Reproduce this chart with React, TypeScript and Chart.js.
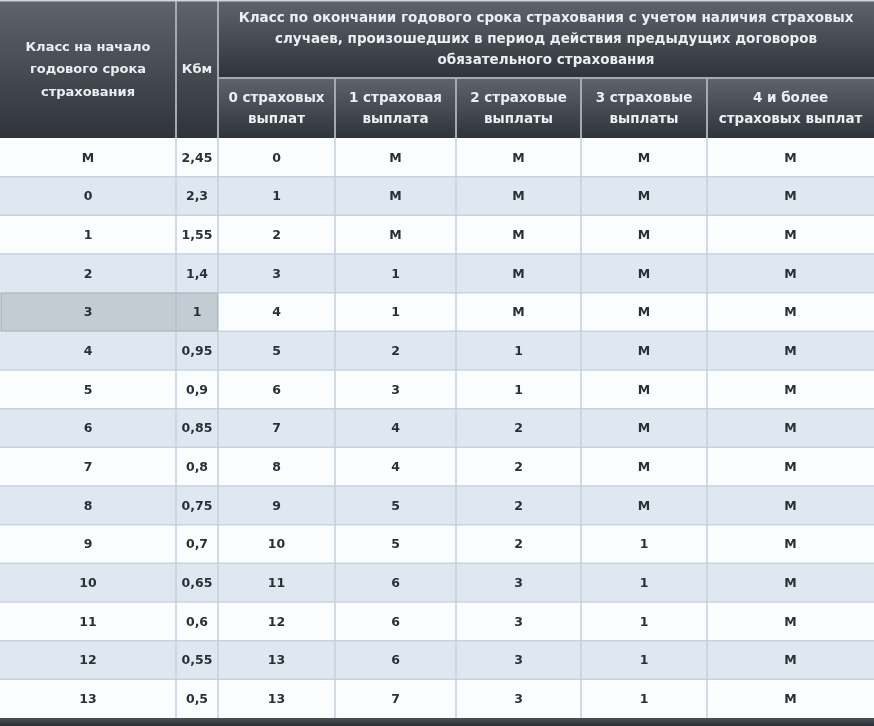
import React, { useEffect, useRef } from "react";
import { Chart, registerables } from "chart.js";

Chart.register(...registerables);

// ---- Data ----
const START_CLASSES = ["М", "0", "1", "2", "3", "4", "5", "6", "7", "8", "9", "10", "11", "12", "13"];
const KBM = ["2,45", "2,3", "1,55", "1,4", "1", "0,95", "0,9", "0,85", "0,8", "0,75", "0,7", "0,65", "0,6", "0,55", "0,5"];
const AFTER_0 = ["0", "1", "2", "3", "4", "5", "6", "7", "8", "9", "10", "11", "12", "13", "13"];
const AFTER_1 = ["М", "М", "М", "1", "1", "2", "3", "4", "4", "5", "5", "6", "6", "6", "7"];
const AFTER_2 = ["М", "М", "М", "М", "М", "1", "1", "2", "2", "2", "2", "3", "3", "3", "3"];
const AFTER_3 = ["М", "М", "М", "М", "М", "М", "М", "М", "М", "М", "1", "1", "1", "1", "1"];
const AFTER_4PLUS = ["М", "М", "М", "М", "М", "М", "М", "М", "М", "М", "М", "М", "М", "М", "М"];

const HEADER_START = ["Класс на начало", "годового срока", "страхования"];
const HEADER_KBM = "Кбм";
const HEADER_GROUP = [
  "Класс по окончании годового срока страхования с учетом наличия страховых",
  "случаев, произошедших в период действия предыдущих договоров",
  "обязательного страхования",
];
const SUB_HEADERS = [
  ["0 страховых", "выплат"],
  ["1 страховая", "выплата"],
  ["2 страховые", "выплаты"],
  ["3 страховые", "выплаты"],
  ["4 и более", "страховых выплат"],
];
const HIGHLIGHT_ROW = 4;

// ---- Layout ----
const W = 874;
const H = 726;
const COL_WIDTHS = [176, 42, 117, 121, 125, 126, 167];
const HEADER_H = 138;
const HEADER_SPLIT = 78;
const FOOTER_H = 8;

const COL_EDGES: number[] = [0];
COL_WIDTHS.forEach((w) => COL_EDGES.push(COL_EDGES[COL_EDGES.length - 1] + w));
const TOTAL = COL_EDGES[COL_EDGES.length - 1];

const FONT = '"DejaVu Sans", Verdana, sans-serif';

export default function App() {
  const ref = useRef<HTMLCanvasElement | null>(null);

  useEffect(() => {
    document.body.style.margin = "0";
    const canvas = ref.current;
    if (!canvas) return;

    const columns = [START_CLASSES, KBM, AFTER_0, AFTER_1, AFTER_2, AFTER_3, AFTER_4PLUS];

    const tablePlugin = {
      id: "tablePlugin",
      afterDatasetsDraw(chart: any) {
        const ctx = chart.ctx as CanvasRenderingContext2D;
        const xs = chart.scales.x;
        const ys = chart.scales.y;
        const area = chart.chartArea;
        const X = (v: number) => xs.getPixelForValue(v);
        const n = START_CLASSES.length;
        const half = (ys.getPixelForValue(1) - ys.getPixelForValue(0)) / 2;

        ctx.save();
        // horizontal row lines
        ctx.strokeStyle = "#c7d3e0";
        ctx.lineWidth = 1.5;
        for (let i = 1; i < n; i++) {
          const y = ys.getPixelForValue(i) - half;
          ctx.beginPath();
          ctx.moveTo(X(0), y);
          ctx.lineTo(X(TOTAL), y);
          ctx.stroke();
        }
        // vertical column lines
        ctx.strokeStyle = "#c3d0dd";
        ctx.lineWidth = 1.5;
        for (let c = 1; c < COL_EDGES.length - 1; c++) {
          const x = X(COL_EDGES[c]);
          ctx.beginPath();
          ctx.moveTo(x, area.top);
          ctx.lineTo(x, area.bottom);
          ctx.stroke();
        }
        // highlight border
        {
          const yc = ys.getPixelForValue(HIGHLIGHT_ROW);
          ctx.strokeStyle = "#aeb7c0";
          ctx.lineWidth = 1;
          ctx.strokeRect(X(0) + 1.5, yc - half + 0.5, X(COL_EDGES[2]) - X(0) - 2, half * 2 - 1);
          ctx.beginPath();
          ctx.moveTo(X(COL_EDGES[1]), yc - half);
          ctx.lineTo(X(COL_EDGES[1]), yc + half);
          ctx.stroke();
        }

        // cell texts
        ctx.fillStyle = "#2b3037";
        ctx.font = `bold 12.5px ${FONT}`;
        ctx.textAlign = "center";
        ctx.textBaseline = "middle";
        for (let c = 0; c < columns.length; c++) {
          const cx = (X(COL_EDGES[c]) + X(COL_EDGES[c + 1])) / 2;
          columns[c].forEach((txt, i) => {
            ctx.fillText(txt, cx, ys.getPixelForValue(i) + 1);
          });
        }

        // header cells
        const headerCell = (x0: number, x1: number, y0: number, y1: number) => {
          const g = ctx.createLinearGradient(0, y0, 0, y1);
          g.addColorStop(0, "#5e646c");
          g.addColorStop(1, "#2f343b");
          ctx.fillStyle = g;
          ctx.fillRect(x0, y0, x1 - x0, y1 - y0);
        };
        const top = 0;
        const hb = area.top;
        const split = HEADER_SPLIT;
        headerCell(X(COL_EDGES[0]), X(COL_EDGES[1]), top, hb);
        headerCell(X(COL_EDGES[1]), X(COL_EDGES[2]), top, hb);
        headerCell(X(COL_EDGES[2]), X(TOTAL), top, split);
        for (let c = 2; c < COL_EDGES.length - 1; c++) {
          headerCell(X(COL_EDGES[c]), X(COL_EDGES[c + 1]), split, hb);
        }
        // header separators
        ctx.strokeStyle = "#a3aab2";
        ctx.lineWidth = 2;
        ctx.beginPath();
        ctx.moveTo(X(COL_EDGES[1]), top);
        ctx.lineTo(X(COL_EDGES[1]), hb);
        ctx.moveTo(X(COL_EDGES[2]), top);
        ctx.lineTo(X(COL_EDGES[2]), hb);
        ctx.moveTo(X(COL_EDGES[2]), split);
        ctx.lineTo(X(TOTAL), split);
        for (let c = 3; c < COL_EDGES.length - 1; c++) {
          ctx.moveTo(X(COL_EDGES[c]), split);
          ctx.lineTo(X(COL_EDGES[c]), hb);
        }
        ctx.stroke();
        // top edge
        ctx.fillStyle = "#cfd4da";
        ctx.fillRect(0, 0, W, 1.5);

        // header texts
        ctx.fillStyle = "#eceef1";
        const lines = (arr: string[], cx: number, cy: number, lh: number) => {
          const start = cy - ((arr.length - 1) * lh) / 2;
          arr.forEach((t, i) => ctx.fillText(t, cx, start + i * lh));
        };
        ctx.font = `bold 13px ${FONT}`;
        lines(HEADER_START, (X(COL_EDGES[0]) + X(COL_EDGES[1])) / 2, (top + hb) / 2 + 1, 22.5);
        lines([HEADER_KBM], (X(COL_EDGES[1]) + X(COL_EDGES[2])) / 2, (top + hb) / 2 + 1, 22);
        ctx.font = `bold 13.5px ${FONT}`;
        lines(HEADER_GROUP, (X(COL_EDGES[2]) + X(TOTAL)) / 2, (top + split) / 2, 21);
        SUB_HEADERS.forEach((sh, k) => {
          const c = k + 2;
          lines(sh, (X(COL_EDGES[c]) + X(COL_EDGES[c + 1])) / 2, (split + hb) / 2 + 1, 21);
        });

        // footer bar
        const fg = ctx.createLinearGradient(0, area.bottom, 0, H);
        fg.addColorStop(0, "#4a5057");
        fg.addColorStop(1, "#2a2f36");
        ctx.fillStyle = fg;
        ctx.fillRect(0, area.bottom, W, H - area.bottom);
        ctx.restore();
      },
    };

    const chart = new Chart(canvas, {
      type: "bar",
      data: {
        labels: START_CLASSES,
        datasets: [
          {
            label: "highlight",
            data: START_CLASSES.map((_, i) => (i === HIGHLIGHT_ROW ? [COL_EDGES[0], COL_EDGES[2]] : null)) as any,
            backgroundColor: "#c3cbd3",
            borderWidth: 0,
            barPercentage: 1,
            categoryPercentage: 1,
            grouped: false,
          } as any,
          {
            label: "rows",
            data: START_CLASSES.map(() => [0, TOTAL]) as any,
            backgroundColor: START_CLASSES.map((_, i) => (i % 2 ? "#dfe7f1" : "#fafcfe")),
            borderWidth: 0,
            barPercentage: 1,
            categoryPercentage: 1,
            grouped: false,
          } as any,
        ],
      },
      options: {
        indexAxis: "y",
        responsive: false,
        animation: false,
        layout: { padding: { top: HEADER_H, bottom: FOOTER_H, left: 0, right: 0 } },
        scales: {
          x: { type: "linear", min: 0, max: TOTAL, display: false },
          y: { type: "category", display: false, offset: true },
        },
        plugins: { legend: { display: false }, tooltip: { enabled: false } },
      },
      plugins: [tablePlugin],
    });

    return () => chart.destroy();
  }, []);

  return (
    <canvas
      ref={ref}
      width={W}
      height={H}
      style={{ display: "block", width: W, height: H, background: "#ffffff" }}
    />
  );
}
